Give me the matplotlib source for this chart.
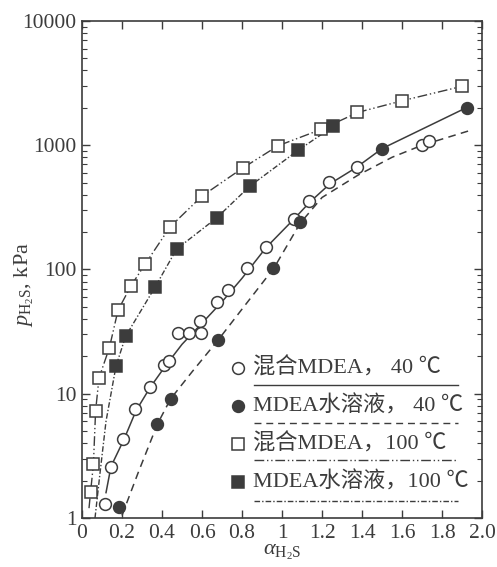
import matplotlib
matplotlib.use("Agg")
import matplotlib.pyplot as plt
from matplotlib.ticker import LogLocator, NullFormatter

plt.rcParams['font.family'] = ['Liberation Serif', 'Noto Sans CJK SC']
plt.rcParams['mathtext.fontset'] = 'custom'
plt.rcParams['mathtext.rm'] = 'Liberation Serif'
plt.rcParams['mathtext.it'] = 'Liberation Serif:italic'

INK = '#3c3c3c'

# measured points
mix40_x = [0.117, 0.143, 0.207, 0.265, 0.34, 0.412, 0.437, 0.482, 0.535, 0.59, 0.595,
           0.677, 0.728, 0.823, 0.92, 1.06, 1.135, 1.237, 1.373, 1.698, 1.735]
mix40_y = [1.29, 2.58, 4.3, 7.5, 11.4, 16.9, 18.4, 31, 31, 38.5, 31,
           55, 68, 103, 153, 257, 356, 509, 663, 1004, 1072]

aq40_x = [0.185, 0.377, 0.443, 0.682, 0.957, 1.09, 1.498, 1.923]
aq40_y = [1.23, 5.7, 9.15, 27, 103, 243, 939, 2005]

mix100_x = [0.043, 0.057, 0.068, 0.085, 0.137, 0.18, 0.245, 0.315, 0.44, 0.60,
            0.807, 0.98, 1.195, 1.377, 1.60, 1.90]
mix100_y = [1.63, 2.72, 7.3, 13.4, 23.5, 47, 74, 110, 220, 391,
            654, 990, 1350, 1840, 2285, 2980]

aq100_x = [0.17, 0.218, 0.365, 0.473, 0.673, 0.84, 1.08, 1.257]
aq100_y = [16.7, 29.2, 72, 146, 260, 470, 910, 1420]

# model curves
solid_x = [0.12, 0.145, 0.21, 0.27, 0.34, 0.42, 0.5, 0.6, 0.7, 0.8, 0.92, 1.06,
           1.14, 1.24, 1.37, 1.5, 1.92]
solid_y = [1.6, 2.6, 4.3, 7.3, 11.2, 17, 25, 37, 55, 85, 150, 255,
           350, 490, 660, 940, 2000]

dash_x = [0.2, 0.28, 0.377, 0.443, 0.55, 0.68, 0.8, 0.96, 1.09, 1.2, 1.38, 1.55, 1.7, 1.93]
dash_y = [1.05, 2.3, 5.7, 9.1, 15, 27, 48, 103, 235, 380, 575, 800, 1000, 1300]

ddot_x = [0.035, 0.043, 0.057, 0.068, 0.085, 0.137, 0.18, 0.245, 0.315, 0.44, 0.6,
          0.8, 0.98, 1.2, 1.38, 1.6, 1.9]
ddot_y = [1.2, 1.63, 2.7, 7.3, 13.4, 23.5, 47, 74, 110, 220, 390,
          650, 990, 1350, 1840, 2280, 2980]

dot_x = [0.065, 0.09, 0.12, 0.17, 0.218, 0.365, 0.473, 0.673, 0.84, 1.08, 1.257]
dot_y = [1.0, 2.3, 6.0, 16.7, 29, 72, 146, 260, 470, 910, 1420]

xticks = [0, 0.2, 0.4, 0.6, 0.8, 1.0, 1.2, 1.4, 1.6, 1.8, 2.0]
xtick_labels = ['0', '0.2', '0.4', '0.6', '0.8', '1', '1.2', '1.4', '1.6', '1.8', '2.0']
yticks = [1, 10, 100, 1000, 10000]
ytick_labels = ['1', '10', '100', '1000', '10000']

legend_labels = ['混合MDEA， 40 ℃', 'MDEA水溶液， 40 ℃', '混合MDEA，100 ℃', 'MDEA水溶液，100 ℃']

fig = plt.figure(figsize=(4.97, 5.67), dpi=100)
ax = fig.add_axes([0.165, 0.0864, 0.805, 0.8766])

ls_dash = (0, (5, 3.5))
ls_ddot = (0, (7, 2, 1, 2, 1, 2))
ls_dot = (0, (4, 1.5, 1, 1.5))

ax.plot(solid_x, solid_y, color=INK, lw=1.1, ls='-')
ax.plot(dash_x, dash_y, color=INK, lw=1.1, ls=ls_dash)
ax.plot(ddot_x, ddot_y, color=INK, lw=1.0, ls=ls_ddot)
ax.plot(dot_x, dot_y, color=INK, lw=1.0, ls=ls_dot)

ms = 8.5
ax.plot(mix40_x, mix40_y, 'o', ms=ms, mfc='white', mec=INK, mew=1.1)
ax.plot(aq40_x, aq40_y, 'o', ms=ms, mfc=INK, mec=INK, mew=1.1)
ax.plot(mix100_x, mix100_y, 's', ms=ms, mfc='white', mec=INK, mew=1.1)
ax.plot(aq100_x, aq100_y, 's', ms=ms, mfc=INK, mec=INK, mew=1.1)

ax.set_yscale('log')
ax.set_xlim(0, 2.0)
ax.set_ylim(1, 10000)
ax.set_xticks(xticks, xtick_labels)
ax.set_yticks(yticks, ytick_labels)
ax.yaxis.set_minor_locator(LogLocator(base=10, subs=range(2, 10)))
ax.yaxis.set_minor_formatter(NullFormatter())
ax.tick_params(which='both', direction='in', top=True, right=True, colors=INK,
               labelcolor=INK, labelsize=15.5)
ax.tick_params(which='major', length=6, width=1.0, pad=4)
ax.tick_params(which='minor', length=3.5, width=0.8)
for s in ax.spines.values():
    s.set_color(INK)
    s.set_linewidth(1.2)

ax.set_xlabel(r'$\alpha_{\mathrm{H_2S}}$', fontsize=16, color=INK, labelpad=0)
ax.set_ylabel(r'$p_{\mathrm{H_2S}}$, kPa', fontsize=16, color=INK)
ax.yaxis.set_label_coords(-0.115, 0.47)

# legend: marker left of text, line style drawn under each entry
leg_marks = [('o', 'white'), ('o', INK), ('s', 'white'), ('s', INK)]
leg_ls = ['-', ls_dash, ls_ddot, ls_dot]
text_y = [0.302, 0.225, 0.149, 0.073]
line_y = [0.268, 0.192, 0.116, 0.035]
for (mk, fc), ls, lab, ty, ly in zip(leg_marks, leg_ls, legend_labels, text_y, line_y):
    ax.plot([0.39], [ty], mk, ms=ms, mfc=fc, mec=INK, mew=1.1,
            transform=ax.transAxes, clip_on=False)
    ax.text(0.428, ty, lab, transform=ax.transAxes, fontsize=16, color=INK,
            va='center', ha='left')
    ax.plot([0.43, 0.94], [ly, ly], color=INK, lw=1.0, ls=ls, transform=ax.transAxes)

fig.savefig('out.png', dpi=100)
